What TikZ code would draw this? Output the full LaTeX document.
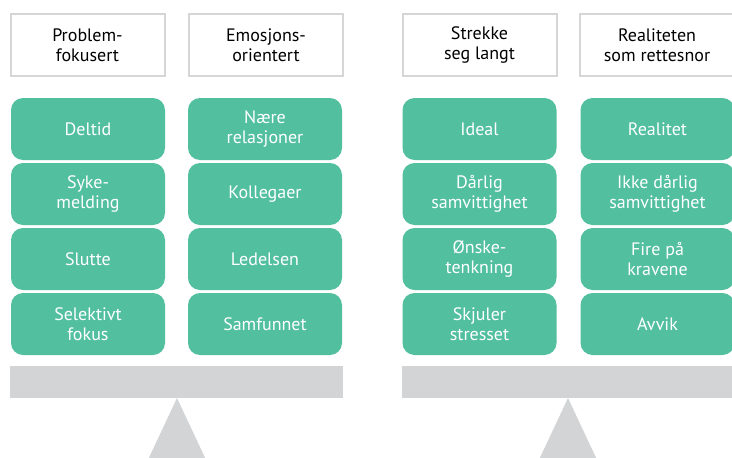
\documentclass[tikz,border=0pt]{standalone}
\usepackage{fontspec}
\setmainfont{PT Sans}
\definecolor{tgreen}{HTML}{52BF9E}
\definecolor{barGray}{HTML}{D3D4D6}
\definecolor{hdGray}{HTML}{D6D6D6}
\begin{document}
\begin{tikzpicture}[x=1pt,y=-1pt,
  hd/.style={draw=hdGray,line width=2pt,fill=white,minimum width=154pt,minimum height=61.5pt,
    inner sep=0pt,align=center,font=\fontsize{18}{20}\selectfont,text=black},
  gbox/.style={fill=tgreen,rounded corners=12pt,minimum width=154pt,minimum height=62pt,
    inner sep=0pt,align=center,font=\fontsize{18}{20}\selectfont,text=white},
  beam/.style={fill=barGray},
  pivot/.style={fill=barGray}]
\useasboundingbox (0,0) rectangle (732,458);
\clip (0,0) rectangle (732,458);
% headers
\node[hd] (h1) at (87.5,44.75) {Problem-\\fokusert};
\node[hd] (h2) at (266,44.75) {Emosjons-\\orientert};
\node[hd] (h3) at (479.5,44.75) {Strekke\\seg langt};
\node[hd] (h4) at (657,44.75) {Realiteten\\som rettesnor};
% column 1
\node[gbox] (a1) at (88,129) {Deltid};
\node[gbox] (a2) at (88,194) {Syke-\\melding};
\node[gbox] (a3) at (88,259) {Slutte};
\node[gbox] (a4) at (88,324) {Selektivt\\fokus};
% column 2
\node[gbox] (b1) at (265,129) {Nære\\relasjoner};
\node[gbox] (b2) at (265,194) {Kollegaer};
\node[gbox] (b3) at (265,259) {Ledelsen};
\node[gbox] (b4) at (265,324) {Samfunnet};
% column 3
\node[gbox] (c1) at (479.5,129) {Ideal};
\node[gbox] (c2) at (479.5,194) {Dårlig\\samvittighet};
\node[gbox] (c3) at (479.5,259) {Ønske-\\tenkning};
\node[gbox] (c4) at (479.5,324) {Skjuler\\stresset};
% column 4
\node[gbox] (d1) at (657.5,129) {Realitet};
\node[gbox] (d2) at (657.5,194) {Ikke dårlig\\samvittighet};
\node[gbox] (d3) at (657.5,259) {Fire på\\kravene};
\node[gbox] (d4) at (657.5,324) {Avvik};
% beams
\fill[beam] (10,366) rectangle (343,398);
\fill[beam] (402,366) rectangle (740,398);
% pivots
\fill[pivot] (177,398) -- (146,464) -- (208,464) -- cycle;
\fill[pivot] (568,398) -- (537,464) -- (599,464) -- cycle;
\end{tikzpicture}
\end{document}
